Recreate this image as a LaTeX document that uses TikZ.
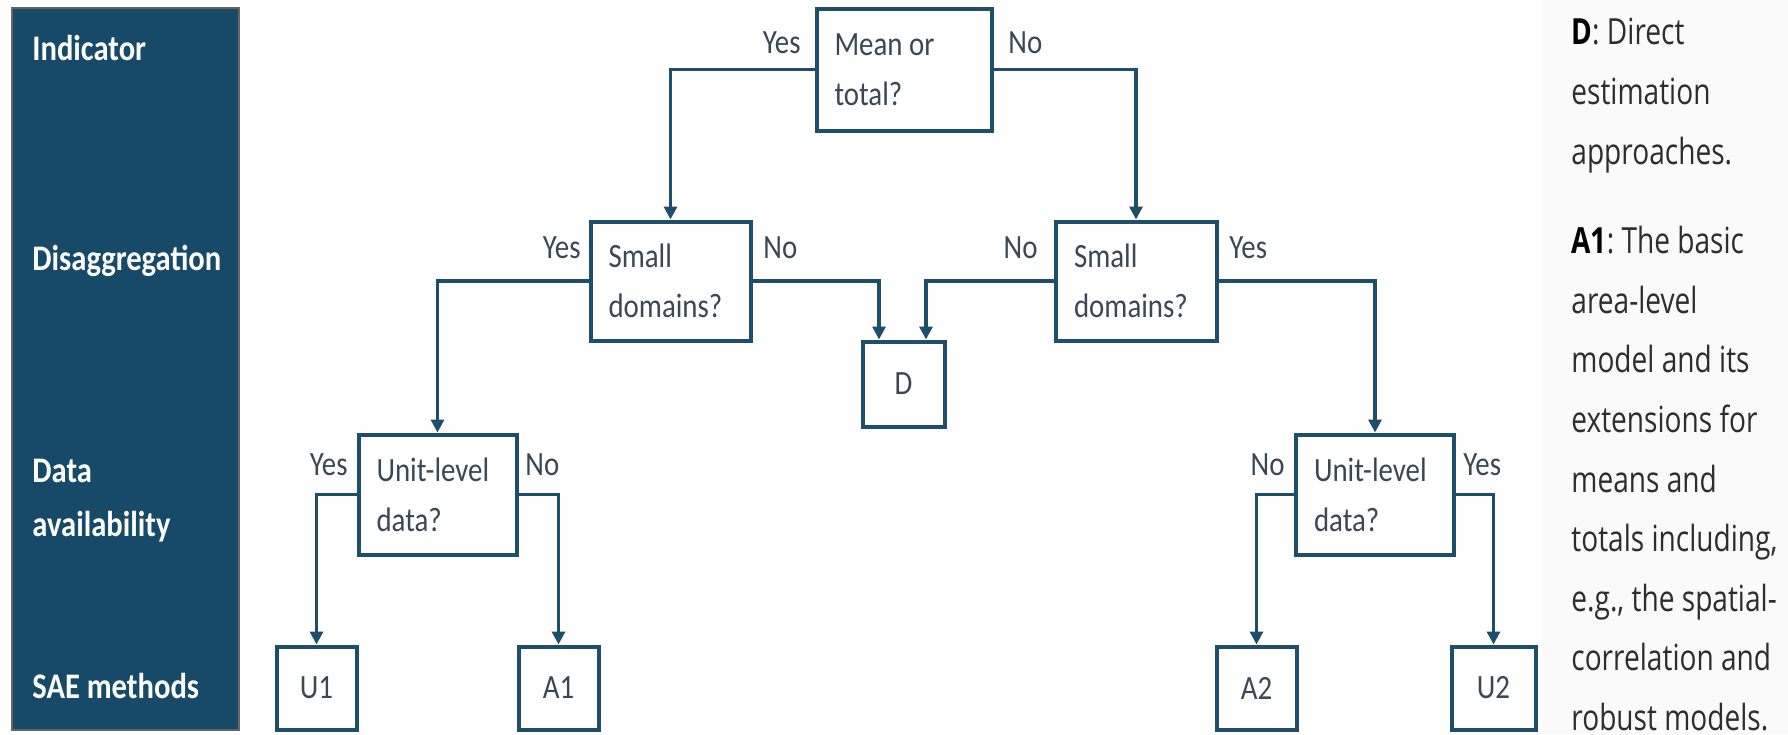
\documentclass[tikz,border=0pt]{standalone}
\usepackage{fontspec}
\setmainfont{Carlito}[FakeStretch=0.85]
\newfontfamily\notefont{Open Sans}[FakeStretch=0.78]
\usetikzlibrary{arrows.meta}
\definecolor{paneblue}{RGB}{23,74,105}
\definecolor{linkblue}{RGB}{31,78,107}
\definecolor{boxtext}{RGB}{58,72,84}
\definecolor{notetext}{RGB}{45,45,45}
\tikzset{
    box/.style = {draw = linkblue, line width = 2pt, fill = white, text = boxtext,
        font = \fontsize{17}{25}\selectfont, inner xsep = 9pt, inner ysep = 0pt},
    ask/.style = {box, align = flush left},
    method/.style = {box, minimum width = 40pt, minimum height = 41.5pt},
    yesno/.style = {text = boxtext, font = \fontsize{17}{20}\selectfont, inner sep = 0pt},
    rowlabel/.style = {text = white, font = \bfseries\fontsize{18}{27}\selectfont,
        inner sep = 0pt, anchor = base west, align = left},
    link/.style = {draw = linkblue, line width = 1.7pt, -{Triangle[length = 6.5pt, width = 6.5pt]}}
}
\begin{document}
\begin{tikzpicture}[x = 0.5pt, y = -0.5pt]
        \useasboundingbox (0, 0) rectangle (1788, 734);
        \fill [black!2] (1543, 0) rectangle (1788, 734);
        \node [fill = paneblue, draw = black!60, line width = 1pt, minimum width = 113.5pt,
            minimum height = 361pt] (side) at (125.5, 369) {};
        \node [rowlabel] (ind) at (32, 60) {Indicator};
        \node [rowlabel] (dis) at (32, 270) {Disaggregation};
        \node [rowlabel] (dat) at (32, 536) {Data\\availability};
        \node [rowlabel] (sae) at (32, 698) {SAE methods};
        \node [ask, text width = 69.5pt, minimum width = 87.5pt, minimum height = 61pt]
            (mean) at (904, 69.5) {Mean or\\total?};
        \node [ask, text width = 62pt, minimum width = 80pt, minimum height = 59.5pt]
            (sdL) at (670.5, 281) {Small\\domains?};
        \node [ask, text width = 62pt, minimum width = 80.5pt, minimum height = 59.5pt]
            (sdR) at (1136, 281) {Small\\domains?};
        \node [box, minimum width = 41pt, minimum height = 42.5pt] (dD) at (903.5, 384) {D};
        \node [ask, text width = 61pt, minimum width = 79pt, minimum height = 60pt]
            (ulL) at (437.5, 494.5) {Unit-level\\data?};
        \node [ask, text width = 61pt, minimum width = 78.5pt, minimum height = 60pt]
            (ulR) at (1375, 494.5) {Unit-level\\data?};
        \node [method] (u1) at (316.5, 688) {U1};
        \node [method] (a1) at (558.5, 688) {A1};
        \node [method] (a2) at (1256.5, 688) {A2};
        \node [method, minimum width = 42pt] (u2) at (1493.5, 688) {U2};
        \node [yesno, anchor = base east] (y0) at (801, 53) {Yes};
        \node [yesno, anchor = base west] (n0) at (1008, 53) {No};
        \node [yesno, anchor = base east] (y1) at (581, 258) {Yes};
        \node [yesno, anchor = base west] (n1) at (763, 258) {No};
        \node [yesno, anchor = base east] (n2) at (1038, 258) {No};
        \node [yesno, anchor = base west] (y2) at (1229, 258) {Yes};
        \node [yesno, anchor = base east] (y3) at (348, 475) {Yes};
        \node [yesno, anchor = base west] (n3) at (525, 475) {No};
        \node [yesno, anchor = base east] (n4) at (1285, 475) {No};
        \node [yesno, anchor = base west] (y4) at (1463, 475) {Yes};
        \draw [link] (mean.west) -| (sdL.north);
        \draw [link] (mean.east) -| (sdR.north);
        \draw [link] (sdL.east) -| ([xshift = -12.25pt] dD.north);
        \draw [link] (sdR.west) -| ([xshift = 11.25pt] dD.north);
        \draw [link] (sdL.west) -| (ulL.north);
        \draw [link] (sdR.east) -| (ulR.north);
        \draw [link] (ulL.west) -| (u1.north);
        \draw [link] (ulL.east) -| (a1.north);
        \draw [link] (ulR.west) -| (a2.north);
        \draw [link] (ulR.east) -| (u2.north);
        \node [anchor = north west, inner sep = 0pt, align = flush left, text = notetext,
            font = \notefont\frenchspacing\fontsize{18}{29.8}\selectfont] (notes) at (1571, 18)
            {\textbf{\textcolor{black}{D}}: Direct\\estimation\\approaches.\\[15pt]
            \textbf{\textcolor{black}{A1}}: The basic\\area-level\\model and its\\extensions for\\means and\\totals including,\\e.g., the spatial-\\correlation and\\robust models.};
\end{tikzpicture}
\end{document}
